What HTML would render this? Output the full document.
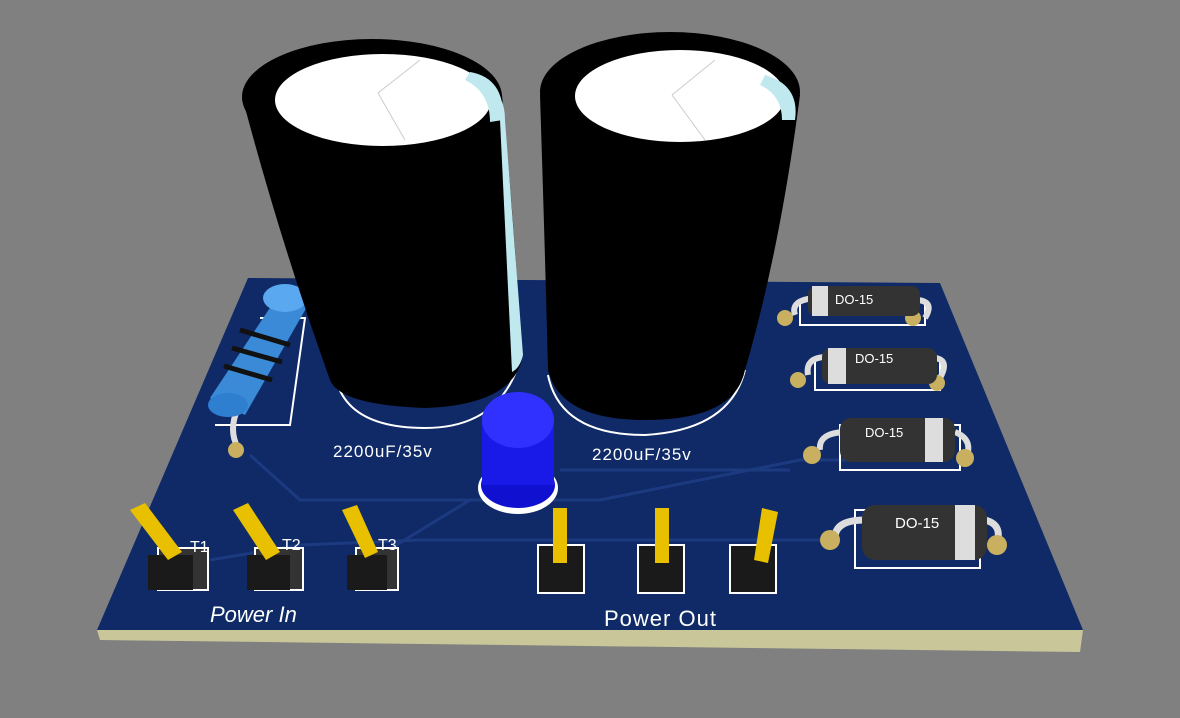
<!DOCTYPE html>
<html><head><meta charset="utf-8">
<style>
html,body{margin:0;padding:0;background:#808080;}
svg{display:block;}
text{font-family:"Liberation Sans",sans-serif;fill:#fff;}
</style></head>
<body>
<svg width="1180" height="718" viewBox="0 0 1180 718">
<rect width="1180" height="718" fill="#808080"/>
<polygon points="97,630 1083,630 1080,652 100,640" fill="#c9c79a"/>
<polygon points="248,278 940,283 1083,630 97,630" fill="#0f2a66"/>
<g stroke="#1c3a80" stroke-width="3" fill="none">
<path d="M210,560 L300,545 L420,540 L560,540 L700,540 L830,540"/>
<path d="M380,555 L470,500 L600,500 L800,460 L900,460"/>
<path d="M560,470 L790,470"/>
<path d="M250,455 L300,500 L480,500"/>
</g>
<g stroke="#fff" stroke-width="2" fill="none">
<polyline points="260,318 305,318 290,425 215,425"/>
<path d="M335,375 Q345,428 425,428 Q500,428 520,360"/>
<path d="M548,375 Q560,435 645,435 Q730,430 745,370"/>
<rect x="800" y="300" width="125" height="25"/>
<rect x="815" y="358" width="125" height="32"/>
<rect x="840" y="425" width="120" height="45"/>
<rect x="855" y="510" width="125" height="58"/>
</g>
<g>
<path d="M238,408 Q228,430 238,448" stroke="#ddd" stroke-width="6" fill="none"/>
<circle cx="236" cy="450" r="8" fill="#c8b060"/>
<polygon points="285,285 308,305 245,415 210,398" fill="#3a8ad8"/>
<ellipse cx="285" cy="298" rx="22" ry="14" fill="#5aa8f0"/>
<ellipse cx="228" cy="405" rx="20" ry="12" fill="#2f7fd0"/>
<g stroke="#111" stroke-width="5"><line x1="240" y1="330" x2="290" y2="345"/><line x1="232" y1="348" x2="282" y2="362"/><line x1="224" y1="366" x2="272" y2="380"/></g>
</g>
<g>
<path d="M243,100 L502,95 Q515,230 522,360 Q510,405 425,408 Q340,405 330,380 Q280,240 243,100 Z" fill="#000"/>
<path d="M488,85 Q505,95 505,120 L523,355 Q520,368 512,372 L500,120 Q497,100 485,90 Z" fill="#bfe9ef"/>
<ellipse cx="372" cy="97" rx="130" ry="58" fill="#000"/>
<ellipse cx="383" cy="100" rx="108" ry="46" fill="#fff"/>
<path d="M470,72 Q505,78 503,120 L490,122 Q490,92 465,80 Z" fill="#bfe9ef"/>
<path d="M378,93 L420,60 M378,93 L405,140" stroke="#ccc" stroke-width="1"/>
</g>
<g>
<path d="M540,95 L800,95 Q780,250 745,370 Q735,420 645,420 Q560,420 548,370 Q545,250 540,95 Z" fill="#000"/>
<ellipse cx="670" cy="92" rx="130" ry="60" fill="#000"/>
<ellipse cx="680" cy="96" rx="105" ry="46" fill="#fff"/>
<path d="M765,75 Q800,85 795,120 L782,120 Q782,95 760,85 Z" fill="#bfe9ef"/>
<path d="M672,95 L715,60 M672,95 L705,140" stroke="#ccc" stroke-width="1"/>
</g>
<text x="333" y="457" font-size="17" letter-spacing="1">2200uF/35v</text>
<text x="592" y="460" font-size="17" letter-spacing="1">2200uF/35v</text>
<g>
<ellipse cx="518" cy="488" rx="40" ry="26" fill="#fff"/>
<ellipse cx="518" cy="485" rx="37" ry="23" fill="#1010d0"/>
<rect x="482" y="420" width="72" height="65" fill="#1a1ae8"/>
<ellipse cx="518" cy="420" rx="36" ry="28" fill="#3030ff"/>
</g>
<g font-size="13">
<g><path d="M795,315 Q790,300 815,298 M918,300 Q935,302 925,318" stroke="#ddd" stroke-width="6" fill="none"/><circle cx="785" cy="318" r="8" fill="#c8b060"/><circle cx="913" cy="318" r="8" fill="#c8b060"/><rect x="808" y="286" width="112" height="30" rx="8" fill="#333"/><rect x="812" y="286" width="16" height="30" fill="#ddd"/><text x="835" y="304" fill="#ccc">DO-15</text></g>
<g><path d="M808,375 Q805,358 825,357 M935,358 Q950,360 940,378" stroke="#ddd" stroke-width="6" fill="none"/><circle cx="798" cy="380" r="8" fill="#c8b060"/><circle cx="937" cy="383" r="8" fill="#c8b060"/><rect x="822" y="348" width="115" height="36" rx="9" fill="#333"/><rect x="828" y="348" width="18" height="36" fill="#ddd"/><text x="855" y="363" fill="#ccc">DO-15</text></g>
<g><path d="M820,450 Q818,433 845,432 M955,432 Q975,440 965,460" stroke="#ddd" stroke-width="6" fill="none"/><circle cx="812" cy="455" r="9" fill="#c8b060"/><circle cx="965" cy="458" r="9" fill="#c8b060"/><rect x="840" y="418" width="115" height="44" rx="11" fill="#333"/><rect x="925" y="418" width="18" height="44" fill="#ddd"/><text x="865" y="437" fill="#ccc">DO-15</text></g>
<g><path d="M835,538 Q835,520 865,520 M985,520 Q1005,525 995,548" stroke="#ddd" stroke-width="7" fill="none"/><circle cx="830" cy="540" r="10" fill="#c8b060"/><circle cx="997" cy="545" r="10" fill="#c8b060"/><rect x="862" y="505" width="125" height="55" rx="13" fill="#333"/><rect x="955" y="505" width="20" height="55" fill="#ddd"/><text x="895" y="528" font-size="15" fill="#ccc">DO-15</text></g>
</g>
<g>
<g><rect x="158" y="548" width="50" height="42" fill="#333" stroke="#fff" stroke-width="2"/><rect x="148" y="555" width="45" height="35" fill="#1a1a1a"/><polygon points="130,510 145,503 182,552 168,560" fill="#e8c000"/><text x="190" y="552" font-size="16">T1</text></g>
<g><rect x="255" y="548" width="48" height="42" fill="#333" stroke="#fff" stroke-width="2"/><rect x="247" y="555" width="43" height="35" fill="#1a1a1a"/><polygon points="233,510 248,503 280,552 266,560" fill="#e8c000"/><text x="282" y="550" font-size="16">T2</text></g>
<g><rect x="356" y="548" width="42" height="42" fill="#333" stroke="#fff" stroke-width="2"/><rect x="347" y="555" width="40" height="35" fill="#1a1a1a"/><polygon points="342,510 357,505 378,552 365,558" fill="#e8c000"/><text x="378" y="550" font-size="16">T3</text></g>
<g><rect x="538" y="545" width="46" height="48" fill="#1a1a1a" stroke="#fff" stroke-width="2"/><rect x="553" y="508" width="14" height="55" fill="#e8c000"/></g>
<g><rect x="638" y="545" width="46" height="48" fill="#1a1a1a" stroke="#fff" stroke-width="2"/><rect x="655" y="508" width="14" height="55" fill="#e8c000"/></g>
<g><rect x="730" y="545" width="46" height="48" fill="#1a1a1a" stroke="#fff" stroke-width="2"/><polygon points="762,508 778,512 768,563 754,560" fill="#e8c000"/></g>
</g>
<text x="210" y="622" font-size="22" font-style="italic">Power In</text>
<text x="604" y="626" font-size="22" letter-spacing="1">Power Out</text>
</svg>
</body></html>
